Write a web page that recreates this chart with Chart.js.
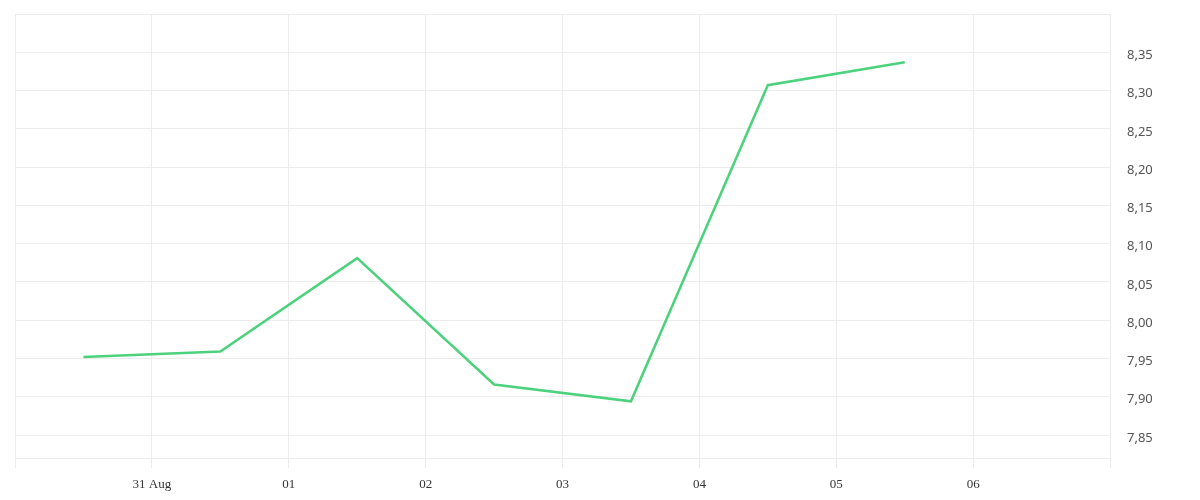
<!DOCTYPE html>
<html lang="en">
<head>
  <meta charset="UTF-8">
  <title>Price chart</title>
  <script src="https://cdn.jsdelivr.net/npm/chart.js"></script>
  <style>
    html, body { margin: 0; padding: 0; background: #ffffff; }
    #chart-container { width: 1200px; height: 500px; }
  </style>
</head>
<body>

<div id="chart-container">
  <canvas id="myChart"></canvas>
</div>

<script>
// data
const pointDates = ['2023-08-30T12:00Z', '2023-08-31T12:00Z', '2023-09-01T12:00Z', '2023-09-02T12:00Z',
                    '2023-09-03T12:00Z', '2023-09-04T12:00Z', '2023-09-05T12:00Z'];
const prices = [7.952, 7.959, 8.081, 7.916, 7.894, 8.307, 8.337];

const xTickDates = ['2023-08-31T00:00Z', '2023-09-01T00:00Z', '2023-09-02T00:00Z', '2023-09-03T00:00Z',
                    '2023-09-04T00:00Z', '2023-09-05T00:00Z', '2023-09-06T00:00Z'];
const xTickLabels = ['31 Aug', '01', '02', '03', '04', '05', '06'];
const xRange = ['2023-08-30T00:00Z', '2023-09-07T00:00Z'];

const yMin = 7.82;
const yMax = 8.40;
const yLabelRange = [7.85, 8.35];

const DAY = 86400000;
const gridColor = '#ececec';

const tickMs = xTickDates.map(d => Date.parse(d));
const points = pointDates.map((d, i) => ({ x: Date.parse(d), y: prices[i] }));

const ctx = document.getElementById('myChart').getContext('2d');
new Chart(ctx, {
  type: 'line',
  data: {
    datasets: [{
      data: points,
      borderColor: '#4cd27c',
      borderWidth: 2.5,
      pointRadius: 0,
      pointHoverRadius: 0,
      tension: 0,
      fill: false
    }]
  },
  options: {
    responsive: true,
    maintainAspectRatio: false,
    animation: false,
    layout: { padding: { left: 15, top: 14, right: 0, bottom: 0 } },
    plugins: {
      legend: { display: false },
      tooltip: { enabled: false }
    },
    scales: {
      x: {
        type: 'linear',
        min: Date.parse(xRange[0]),
        max: Date.parse(xRange[1]),
        afterFit: scale => {
          scale.height = 42;
          scale.paddingLeft = 0;
          scale.paddingRight = 0;
        },
        grid: { color: gridColor, tickLength: 10 },
        border: { color: gridColor },
        ticks: {
          stepSize: DAY,
          autoSkip: false,
          maxRotation: 0,
          padding: 9,
          color: '#333',
          font: { family: 'Liberation Serif', size: 13 },
          callback: value => {
            const i = tickMs.indexOf(value);
            return i >= 0 ? xTickLabels[i] : '';
          }
        }
      },
      y: {
        position: 'right',
        min: yMin,
        max: yMax,
        afterFit: scale => {
          scale.width = 90;
          scale.paddingTop = 0;
          scale.paddingBottom = 0;
        },
        grid: { color: gridColor, drawTicks: false },
        border: { color: gridColor },
        ticks: {
          stepSize: 0.05,
          padding: 17,
          labelOffset: 3,
          color: '#555',
          font: { family: 'Noto Sans', size: 13 },
          callback: value => {
            if (value < yLabelRange[0] - 0.001 || value > yLabelRange[1] + 0.001) return '';
            return value.toFixed(2).replace('.', ',');
          }
        }
      }
    }
  }
});
</script>

</body>
</html>
